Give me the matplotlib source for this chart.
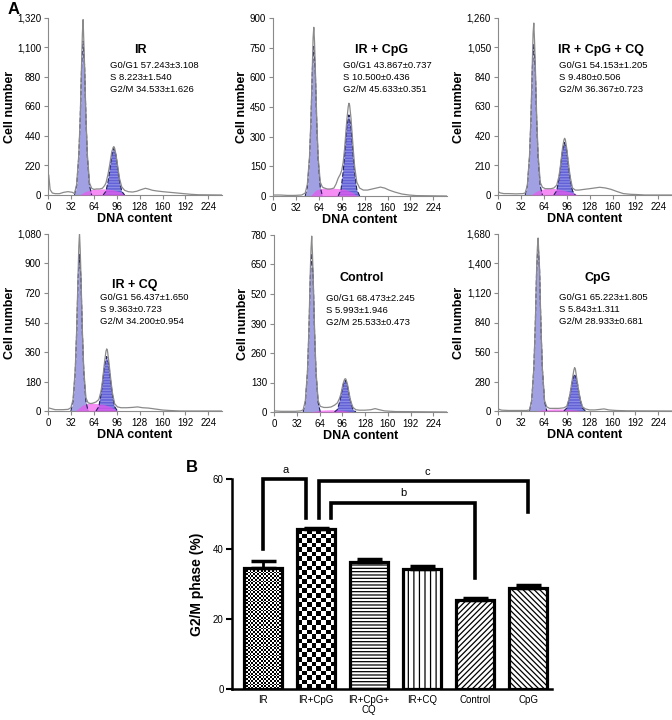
import numpy as np
import matplotlib.pyplot as plt

plt.rcParams['font.family'] = ['Liberation Sans', 'DejaVu Sans']
plt.rcParams['hatch.linewidth'] = 0.9

# ---------------- Panel A: cell cycle histograms ----------------
titles = ["IR", "IR + CpG", "IR + CpG + CQ", "IR + CQ", "Control", "CpG"]
stats = [
    ["G0/G1 57.243±3.108", "S 8.223±1.540", "G2/M 34.533±1.626"],
    ["G0/G1 43.867±0.737", "S 10.500±0.436", "G2/M 45.633±0.351"],
    ["G0/G1 54.153±1.205", "S 9.480±0.506", "G2/M 36.367±0.723"],
    ["G0/G1 56.437±1.650", "S 9.363±0.723", "G2/M 34.200±0.954"],
    ["G0/G1 68.473±2.245", "S 5.993±1.946", "G2/M 25.533±0.473"],
    ["G0/G1 65.223±1.805", "S 5.843±1.311", "G2/M 28.933±0.681"],
]
y_max = [1320, 900, 1260, 1080, 780, 1680]
y_step = [220, 150, 210, 180, 130, 280]
x_ticks = [0, 32, 64, 96, 128, 160, 192, 224]

# raw histogram outline (grey trace)
raw_x = [
    [0, 1, 3, 6, 10, 16, 22, 28, 34, 37, 40, 43, 45, 47, 48, 49, 50, 51, 53, 55, 58, 61, 64, 68, 72, 76,
     79, 81, 84, 86, 89, 91, 92, 93, 95, 98, 100, 103, 107, 112, 118, 124, 130, 136, 140, 146, 152, 160,
     170, 180, 190, 200, 210, 243],
    [0, 10, 20, 30, 40, 45, 48, 51, 53, 55, 56, 57, 58, 59, 61, 63, 66, 69, 72, 76, 80, 85, 88, 91, 94,
     96, 98, 100, 103, 105, 106, 107, 109, 112, 114, 117, 121, 126, 132, 138, 144, 150, 156, 162, 170,
     180, 190, 200, 243],
    [0, 3, 8, 15, 25, 35, 38, 41, 44, 46, 48, 49, 50, 51, 52, 54, 56, 59, 62, 66, 70, 74, 78, 82, 85, 87,
     90, 92, 93, 94, 96, 99, 101, 104, 108, 113, 120, 128, 135, 142, 150, 158, 166, 175, 185, 195, 205,
     243],
    [0, 4, 10, 20, 28, 32, 35, 38, 40, 42, 43, 44, 45, 46, 48, 50, 53, 56, 60, 64, 67, 71, 74, 76, 79, 81,
     82, 83, 85, 88, 90, 93, 97, 102, 110, 118, 125, 132, 140, 150, 160, 170, 185, 243],
    [0, 10, 20, 30, 38, 41, 44, 47, 49, 51, 52, 53, 54, 55, 57, 59, 62, 65, 70, 75, 80, 85, 89, 92, 94,
     97, 99, 100, 101, 103, 106, 108, 111, 115, 120, 128, 136, 142, 148, 155, 170, 243],
    [0, 5, 15, 30, 40, 44, 47, 50, 52, 54, 55, 56, 57, 58, 60, 62, 65, 68, 72, 78, 85, 92, 96, 99, 101,
     104, 106, 107, 108, 110, 113, 115, 118, 122, 128, 135, 142, 148, 155, 165, 180, 243],
]
raw_y = [
    [10, 150, 40, 15, 10, 10, 20, 25, 20, 10, 80, 300, 580, 1000, 1200, 1308, 1150, 980, 580, 300, 90,
     50, 42, 45, 45, 50, 70, 90, 160, 220, 320, 355, 361, 350, 300, 190, 120, 60, 35, 25, 22, 28, 40, 50,
     45, 35, 30, 25, 20, 15, 10, 5, 2, 0],
    [5, 5, 3, 3, 5, 15, 60, 200, 390, 660, 800, 853, 780, 660, 400, 200, 70, 45, 40, 35, 35, 40, 60, 90,
     110, 130, 170, 240, 380, 450, 469, 460, 390, 240, 150, 70, 40, 30, 30, 35, 40, 45, 40, 30, 20, 10, 5,
     2, 0],
    [25, 15, 10, 10, 8, 10, 15, 70, 280, 550, 950, 1150, 1224, 1100, 950, 560, 290, 90, 55, 45, 45, 45,
     50, 70, 130, 200, 330, 390, 404, 395, 330, 200, 125, 50, 35, 35, 40, 45, 50, 55, 50, 40, 25, 10, 5, 3,
     0, 0],
    [20, 15, 8, 8, 10, 20, 70, 250, 490, 830, 1000, 1086, 980, 830, 490, 250, 80, 50, 45, 50, 55, 70, 120,
     180, 300, 365, 379, 370, 300, 180, 110, 45, 25, 20, 20, 22, 25, 20, 18, 12, 6, 3, 0, 0],
    [5, 3, 3, 3, 5, 10, 50, 180, 360, 620, 720, 775, 700, 600, 360, 180, 50, 25, 20, 20, 22, 30, 40, 60,
     80, 125, 143, 147, 145, 125, 75, 45, 20, 10, 8, 8, 10, 15, 10, 5, 2, 0],
    [20, 8, 5, 5, 5, 10, 100, 400, 800, 1360, 1550, 1642, 1500, 1360, 800, 400, 100, 40, 25, 25, 25, 30,
     45, 110, 180, 310, 390, 412, 400, 310, 180, 110, 40, 20, 10, 10, 15, 20, 10, 5, 2, 0],
]

# fitted G0/G1 peak
g1_x = [
    [37, 40, 43, 45, 47, 49, 51, 53, 55, 58, 61],
    [45, 48, 51, 53, 55, 57, 59, 61, 63, 66, 69],
    [38, 41, 44, 46, 48, 50, 52, 54, 56, 59, 62],
    [32, 35, 38, 40, 42, 44, 46, 48, 50, 53, 56],
    [41, 44, 47, 49, 51, 53, 55, 57, 59, 62, 65],
    [44, 47, 50, 52, 54, 56, 58, 60, 62, 65, 68],
]
g1_y = [
    [0, 69, 287, 573, 974, 1146, 974, 573, 287, 69, 0],
    [0, 45, 189, 378, 643, 756, 643, 378, 189, 45, 0],
    [0, 64, 268, 535, 910, 1070, 910, 535, 268, 64, 0],
    [0, 57, 239, 477, 811, 954, 811, 477, 239, 57, 0],
    [0, 42, 175, 350, 594, 699, 594, 350, 175, 42, 0],
    [0, 95, 398, 795, 1352, 1590, 1352, 795, 398, 95, 0],
]
# fitted G2/M peak
g2_x = [
    [77, 81, 84, 86, 89, 92, 95, 98, 100, 103, 107],
    [91, 95, 98, 100, 103, 106, 109, 112, 114, 117, 121],
    [78, 82, 85, 87, 90, 93, 96, 99, 101, 104, 108],
    [67, 71, 74, 76, 79, 82, 85, 88, 90, 93, 97],
    [85, 89, 92, 94, 97, 100, 103, 106, 108, 111, 115],
    [92, 96, 99, 101, 104, 107, 110, 113, 115, 118, 122],
]
g2_y = [
    [0, 28, 105, 175, 297, 349, 297, 175, 105, 28, 0],
    [0, 33, 123, 205, 349, 410, 349, 205, 123, 33, 0],
    [0, 30, 112, 187, 317, 373, 317, 187, 112, 30, 0],
    [0, 27, 100, 166, 282, 332, 282, 166, 100, 27, 0],
    [0, 11, 42, 70, 119, 140, 119, 70, 42, 11, 0],
    [0, 28, 105, 175, 297, 349, 297, 175, 105, 28, 0],
]
# fitted S phase
s_x = [
    [44, 52, 60, 70, 80, 90, 100, 108],
    [52, 60, 70, 80, 90, 100, 110, 118],
    [46, 55, 65, 75, 85, 95, 104, 112],
    [38, 48, 58, 68, 78, 88, 97],
    [50, 65, 80, 95, 110],
    [52, 66, 80, 95, 108, 118],
]
s_y = [
    [0, 25, 40, 45, 45, 40, 25, 0],
    [0, 30, 40, 40, 38, 35, 20, 0],
    [0, 30, 45, 48, 42, 30, 15, 0],
    [0, 35, 50, 45, 40, 25, 0],
    [0, 8, 10, 8, 0],
    [0, 15, 20, 18, 10, 0],
]

# ---------------- Panel B: G2/M bar chart ----------------
groups = ["IR", "IR+CpG", "IR+CpG+\nCQ", "IR+CQ", "Control", "CpG"]
g2m_mean = [34.533, 45.633, 36.367, 34.200, 25.533, 28.933]
g2m_err = [1.9, 0.5, 0.9, 0.9, 0.5, 0.7]

W, H = 672, 720
fig = plt.figure(figsize=(W / 100, H / 100), dpi=100)


def px_axes(left, top, right, bottom):
    return fig.add_axes([left / W, 1 - bottom / H, (right - left) / W, (bottom - top) / H])


# axes boxes in pixels: left, top, right, bottom
boxes = [(48, 18, 222, 195), (273, 18, 447, 196), (498, 18, 672, 195),
         (48, 234, 222, 411), (274, 235, 447, 412), (498, 234, 672, 411)]
title_pos = [(0.53, 0.82), (0.625, 0.82), (0.59, 0.82), (0.50, 0.712), (0.507, 0.757), (0.57, 0.75)]
stats_pos = [(0.358, 0.734), (0.404, 0.734), (0.353, 0.734), (0.30, 0.644), (0.30, 0.644), (0.353, 0.644)]

for i in range(6):
    ax = px_axes(*boxes[i])
    ax.fill_between(g1_x[i], g1_y[i], color='#a0a0e2', lw=0, zorder=2)
    ax.fill_between(g2_x[i], g2_y[i], facecolor='#6262d6', edgecolor='#8c8ce6', hatch='------',
                    lw=0, zorder=2)
    ax.fill_between(s_x[i], s_y[i], color='#f050f0', alpha=0.65, lw=0, zorder=3)
    ax.plot(g1_x[i], g1_y[i], color='#22225a', lw=0.8, ls=(0, (4, 2)), zorder=4)
    ax.plot(g2_x[i], g2_y[i], color='#22225a', lw=0.8, ls=(0, (4, 2)), zorder=4)
    ax.plot(raw_x[i], raw_y[i], color='#8a8a8a', lw=0.9, zorder=5)

    ax.set_xlim(0, 243)
    ax.set_ylim(0, y_max[i])
    ax.set_xticks(x_ticks)
    ax.set_yticks(np.arange(0, y_max[i] + 1, y_step[i]))
    ax.yaxis.set_major_formatter(plt.FuncFormatter(lambda v, p: f"{int(v):,}"))
    for s in ['top', 'right']:
        ax.spines[s].set_visible(False)
    for s in ['left', 'bottom']:
        ax.spines[s].set_color('#8a8a8a')
        ax.spines[s].set_linewidth(0.8)
    ax.tick_params(colors='#8a8a8a', labelcolor='black', labelsize=7, length=3, width=0.8, pad=2)
    ax.set_ylabel("Cell number", fontsize=9, fontweight='bold', labelpad=1)
    ax.set_xlabel("DNA content", fontsize=9, fontweight='bold', labelpad=1)

    tx, ty = title_pos[i]
    ax.text(tx, ty, titles[i], transform=ax.transAxes, ha='center', va='center',
            fontsize=9, fontweight='bold')
    sx, sy = stats_pos[i]
    for k, line in enumerate(stats[i]):
        ax.text(sx, sy - k * 0.068, line, transform=ax.transAxes, ha='left', va='center', fontsize=6.8)

fig.text(8 / W, 1 - 9 / H, "A", fontsize=12, fontweight='bold', ha='left', va='center')
fig.text(186 / W, 1 - 468 / H, "B", fontsize=12, fontweight='bold', ha='left', va='center')

# ---- bar chart ----
axb = px_axes(232, 479, 552, 689)
xpos = np.arange(len(groups))
bw = 0.72
axb.set_xlim(-0.585, 5.45)
axb.set_ylim(0, 60)

bars = axb.bar(xpos, g2m_mean, width=bw, color='white', edgecolor='black', lw=0, zorder=2)
hatches = [None, None, '-----', '|||', '//////', '\\\\\\\\\\\\']
for b, h in zip(bars, hatches):
    if h:
        b.set_hatch(h)

# checker textures for first two bars
cell_px = [1.8, 4.6]
for b, cp in zip(bars[:2], cell_px):
    x0, w, hgt = b.get_x(), b.get_width(), b.get_height()
    p0 = axb.transData.transform((x0, 0))
    p1 = axb.transData.transform((x0 + w, hgt))
    ncol = max(1, int(round((p1[0] - p0[0]) / cp)))
    nrow = max(1, int(round((p1[1] - p0[1]) / cp)))
    board = (np.add.outer(np.arange(nrow), np.arange(ncol)) % 2).astype(float)
    im = axb.imshow(board, cmap='gray', extent=(x0, x0 + w, 0, hgt), aspect='auto',
                    interpolation='nearest', zorder=2.5, origin='lower')
    im.set_clip_path(b)

# outlines on top of the textures
axb.bar(xpos, g2m_mean, width=bw, fill=False, edgecolor='black', lw=2.3, zorder=3)

axb.errorbar(xpos, g2m_mean, yerr=[np.zeros(len(xpos)), g2m_err], fmt='none', ecolor='black',
             elinewidth=2, capsize=9, capthick=2.5, zorder=4)

# significance brackets
blw = 2.6
axb.plot([0, 0, 0.82, 0.82], [40.1, 60, 60, 48.8], color='black', lw=blw, clip_on=False,
         solid_joinstyle='miter', zorder=5)
axb.plot([1.06, 1.06, 5.0, 5.0], [48.8, 59.3, 59.3, 50.6], color='black', lw=blw, clip_on=False,
         solid_joinstyle='miter', zorder=5)
axb.plot([1.28, 1.28, 4.0, 4.0], [48.8, 53.2, 53.2, 31.7], color='black', lw=blw, clip_on=False,
         solid_joinstyle='miter', zorder=5)
axb.text(0.43, 62.5, "a", ha='center', va='center', fontsize=8)
axb.text(3.1, 62.0, "c", ha='center', va='center', fontsize=8)
axb.text(2.65, 56.0, "b", ha='center', va='center', fontsize=8)

axb.set_xticks(xpos)
axb.set_xticklabels(groups, fontsize=7, linespacing=1.1)
axb.set_yticks([0, 20, 40, 60])
axb.tick_params(axis='y', labelsize=7, length=4, width=1.5, pad=2)
axb.tick_params(axis='x', length=0, pad=4)
for s in ['top', 'right']:
    axb.spines[s].set_visible(False)
for s in ['left', 'bottom']:
    axb.spines[s].set_linewidth(1.8)
axb.set_ylabel("G2/M phase (%)", fontsize=10, fontweight='bold', labelpad=6)

fig.savefig("out.png", dpi=100)
